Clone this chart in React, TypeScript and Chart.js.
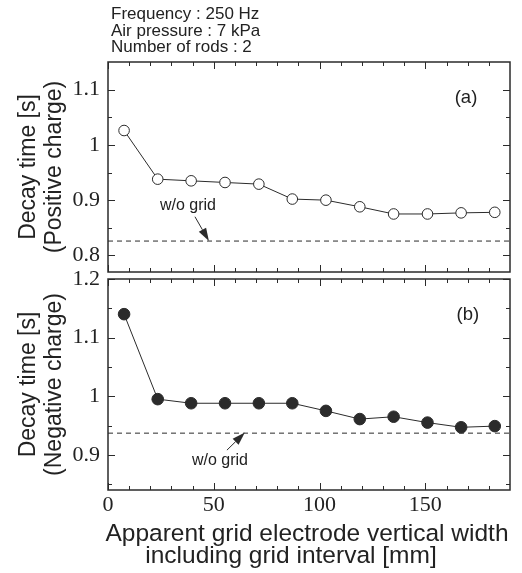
import React, { useEffect, useRef } from 'react';
import { Chart, registerables } from 'chart.js';

Chart.register(...registerables);

const W = 522;
const H = 573;
const INK = '#2b2b2b';
const SANS = '"Liberation Sans", Arial, Helvetica, sans-serif';
const SERIF = '"Liberation Serif", "Times New Roman", serif';

// ---- data ----
const X_VALUES = [7.6, 23.5, 39.3, 55.3, 71.3, 87.1, 103.0, 119.0, 135.0, 151.0, 166.9, 182.8];
const POSITIVE_DECAY = [1.026, 0.938, 0.935, 0.932, 0.929, 0.902, 0.9, 0.888, 0.875, 0.875, 0.877, 0.878];
const NEGATIVE_DECAY = [1.14, 0.995, 0.988, 0.988, 0.988, 0.988, 0.975, 0.961, 0.965, 0.955, 0.947, 0.949];
const WO_GRID_X = [0, 190];
const POSITIVE_WO_GRID = [0.826, 0.826];
const NEGATIVE_WO_GRID = [0.937, 0.937];

// ---- ticks ----
const X_MAJOR_TICKS = [0, 50, 100, 150];
const X_MINOR_TICKS = [10, 20, 30, 40, 60, 70, 80, 90, 110, 120, 130, 140, 160, 170, 180];
const Y_MAJOR_A = [0.8, 0.9, 1.0, 1.1];
const Y_MINOR_A = [0.85, 0.95, 1.05];
const Y_MAJOR_B = [0.9, 1.0, 1.1, 1.2];
const Y_MINOR_B = [0.85, 0.95, 1.05, 1.15];

// ---- text ----
const HEADER_LINES = ['Frequency : 250 Hz', 'Air pressure : 7 kPa', 'Number of rods : 2'];
const Y_TITLE_A = ['Decay time [s]', '(Positive charge)'];
const Y_TITLE_B = ['Decay time [s]', '(Negative charge)'];
const X_TITLE = ['Apparent grid electrode vertical width', 'including grid interval [mm]'];
const WO_GRID_LABEL = 'w/o grid';

const fmt = (v: number) => String(+Number(v).toFixed(2));

const decoPlugin = {
  id: 'deco',
  afterDatasetsDraw(chart: any, _args: any, opts: any) {
    const { ctx, chartArea: a, scales } = chart;
    const xs = scales.x;
    const ys = scales.y;
    ctx.save();
    ctx.strokeStyle = INK;
    ctx.lineWidth = 1;
    ctx.beginPath();
    const xTick = (v: number, len: number) => {
      const px = Math.round(xs.getPixelForValue(v)) + 0.5;
      ctx.moveTo(px, a.top);
      ctx.lineTo(px, a.top + len);
      ctx.moveTo(px, a.bottom);
      ctx.lineTo(px, a.bottom - len);
    };
    const yTick = (v: number, len: number) => {
      const py = Math.round(ys.getPixelForValue(v)) + 0.5;
      ctx.moveTo(a.left, py);
      ctx.lineTo(a.left + len, py);
      ctx.moveTo(a.right, py);
      ctx.lineTo(a.right - len, py);
    };
    X_MAJOR_TICKS.forEach((v) => xTick(v, 7));
    X_MINOR_TICKS.forEach((v) => xTick(v, 4));
    opts.yMajor.forEach((v: number) => yTick(v, 7));
    opts.yMinor.forEach((v: number) => yTick(v, 4));
    ctx.stroke();

    ctx.lineWidth = 1.5;
    ctx.strokeRect(a.left, a.top, a.right - a.left, a.bottom - a.top);

    // annotation arrow
    const [tx, ty] = opts.arrowTail;
    const [hx, hy] = opts.arrowHead;
    const x1 = xs.getPixelForValue(tx), y1 = ys.getPixelForValue(ty);
    const x2 = xs.getPixelForValue(hx), y2 = ys.getPixelForValue(hy);
    const ang = Math.atan2(y2 - y1, x2 - x1);
    const L = 13, Wd = 4.2;
    const bx = x2 - L * Math.cos(ang), by = y2 - L * Math.sin(ang);
    ctx.lineWidth = 1;
    ctx.beginPath();
    ctx.moveTo(x1, y1);
    ctx.lineTo(bx, by);
    ctx.stroke();
    ctx.fillStyle = INK;
    ctx.beginPath();
    ctx.moveTo(x2, y2);
    ctx.lineTo(bx - Wd * Math.sin(ang), by + Wd * Math.cos(ang));
    ctx.lineTo(bx + Wd * Math.sin(ang), by - Wd * Math.cos(ang));
    ctx.closePath();
    ctx.fill();

    ctx.fillStyle = '#222';
    ctx.textAlign = 'center';
    ctx.textBaseline = 'middle';
    ctx.font = '16px ' + SANS;
    ctx.fillText(WO_GRID_LABEL, xs.getPixelForValue(opts.textAt[0]), ys.getPixelForValue(opts.textAt[1]));
    ctx.font = '18.5px ' + SANS;
    ctx.fillText(opts.panel, xs.getPixelForValue(opts.panelAt[0]), ys.getPixelForValue(opts.panelAt[1]));

    if (opts.xTitle) {
      ctx.font = '24.5px ' + SANS;
      const cx = (a.left + a.right) / 2;
      ctx.fillText(X_TITLE[0], cx - 2, a.bottom + 44);
      ctx.fillText(X_TITLE[1], cx - 18, a.bottom + 66);
    }
    ctx.restore();
  },
};

function makeConfig(panel: 'a' | 'b'): any {
  const isA = panel === 'a';
  const values = isA ? POSITIVE_DECAY : NEGATIVE_DECAY;
  const ref = isA ? POSITIVE_WO_GRID : NEGATIVE_WO_GRID;
  const yMajor = isA ? Y_MAJOR_A : Y_MAJOR_B;
  return {
    type: 'line',
    data: {
      datasets: [
        {
          data: X_VALUES.map((x, i) => ({ x, y: values[i] })),
          borderColor: INK,
          borderWidth: 1,
          pointRadius: isA ? 5.3 : 5.8,
          pointBorderWidth: 1,
          pointBorderColor: INK,
          pointBackgroundColor: isA ? '#ffffff' : INK,
          tension: 0,
        },
        {
          data: WO_GRID_X.map((x, i) => ({ x, y: ref[i] })),
          borderColor: INK,
          borderWidth: 1,
          borderDash: [5, 4],
          pointRadius: 0,
        },
      ],
    },
    options: {
      animation: false,
      responsive: false,
      events: [],
      layout: {
        padding: isA
          ? { top: 62, right: 12, bottom: H - 272, left: 0 }
          : { top: 279, right: 12, bottom: 0, left: 0 },
      },
      plugins: {
        legend: { display: false },
        tooltip: { enabled: false },
        deco: isA
          ? {
              yMajor: Y_MAJOR_A,
              yMinor: Y_MINOR_A,
              arrowTail: [41.1, 0.87],
              arrowHead: [47.7, 0.826],
              textAt: [37.8, 0.89],
              panel: '(a)',
              panelAt: [169.2, 1.085],
              xTitle: false,
            }
          : {
              yMajor: Y_MAJOR_B,
              yMinor: Y_MINOR_B,
              arrowTail: [56.2, 0.908],
              arrowHead: [64.7, 0.938],
              textAt: [52.9, 0.89],
              panel: '(b)',
              panelAt: [170.1, 1.139],
              xTitle: true,
            },
      },
      scales: {
        x: {
          type: 'linear',
          min: 0,
          max: 190,
          display: !isA,
          position: 'bottom',
          grid: { display: false, drawTicks: false },
          border: { display: false },
          afterBuildTicks: (s: any) => {
            s.ticks = X_MAJOR_TICKS.map((v) => ({ value: v }));
          },
          afterFit: (s: any) => {
            s.height = isA ? 0 : H - 490;
          },
          ticks: {
            color: '#222',
            padding: 2,
            maxRotation: 0,
            font: { family: SERIF, size: 22 },
            callback: (v: any) => fmt(v),
          },
        },
        y: {
          type: 'linear',
          min: isA ? 0.77 : 0.84,
          max: isA ? 1.15 : 1.2,
          position: 'left',
          grid: { display: false, drawTicks: false },
          border: { display: false },
          afterBuildTicks: (s: any) => {
            s.ticks = yMajor.map((v) => ({ value: v }));
          },
          afterFit: (s: any) => {
            s.width = 108;
          },
          ticks: {
            color: '#222',
            padding: 8,
            font: { family: SERIF, size: 22 },
            callback: (v: any) => fmt(v),
          },
          title: {
            display: true,
            text: isA ? Y_TITLE_A : Y_TITLE_B,
            color: '#222',
            font: { family: SANS, size: 23, lineHeight: 1.13 },
            padding: { top: 16, bottom: 0 },
          },
        },
      },
    },
    plugins: [decoPlugin],
  };
}

export default function App() {
  const refA = useRef<HTMLCanvasElement | null>(null);
  const refB = useRef<HTMLCanvasElement | null>(null);

  useEffect(() => {
    document.body.style.margin = '0';
    const a = new Chart(refA.current as HTMLCanvasElement, makeConfig('a'));
    const b = new Chart(refB.current as HTMLCanvasElement, makeConfig('b'));
    return () => {
      a.destroy();
      b.destroy();
    };
  }, []);

  const canvasStyle: React.CSSProperties = {
    position: 'absolute',
    left: 0,
    top: 0,
    width: W,
    height: H,
  };

  return (
    <div style={{ position: 'absolute', left: 0, top: 0, width: W, height: H, background: '#fff', overflow: 'hidden' }}>
      <canvas ref={refA} width={W} height={H} style={canvasStyle} />
      <canvas ref={refB} width={W} height={H} style={canvasStyle} />
      <div
        style={{
          position: 'absolute',
          left: 111,
          top: 6,
          fontFamily: SANS,
          fontSize: 17,
          lineHeight: '16.7px',
          color: '#222',
          whiteSpace: 'pre',
        }}
      >
        {HEADER_LINES.map((l) => (
          <div key={l}>{l}</div>
        ))}
      </div>
    </div>
  );
}
